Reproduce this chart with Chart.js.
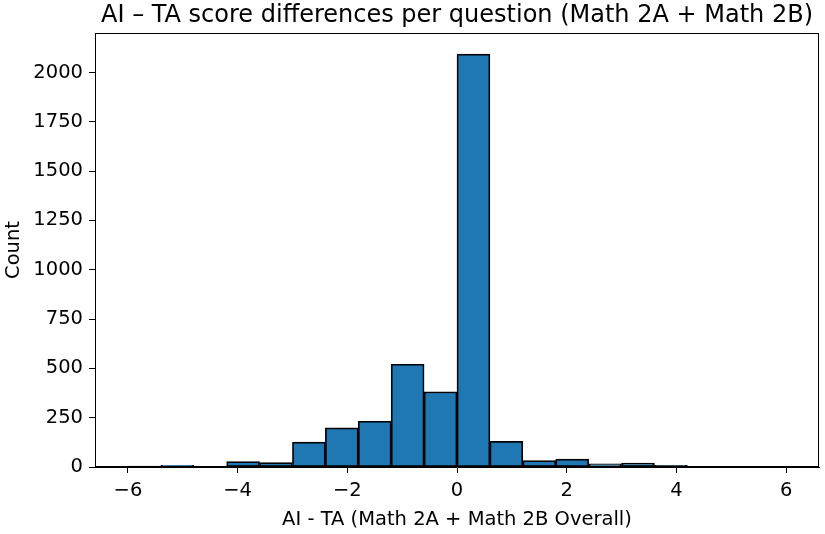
<!DOCTYPE html>
<html>
<head>
<meta charset="utf-8">
<script src="https://cdn.jsdelivr.net/npm/chart.js@4.4.1/dist/chart.umd.min.js"></script>
<style>
  html, body { margin: 0; padding: 0; background: #fff; }
  #wrap { width: 825px; height: 534px; }
</style>
</head>
<body>
<div id="wrap"><canvas id="hist"></canvas></div>
<script>
// histogram bins (AI - TA), 20 bins from -6 to 6
var binEdges = [-6, -5.4, -4.8, -4.2, -3.6, -3.0, -2.4, -1.8, -1.2, -0.6, 0,
                0.6, 1.2, 1.8, 2.4, 3.0, 3.6, 4.2, 4.8, 5.4, 6];
var counts = [5, 9, 2, 27, 22, 126, 198, 232, 521, 381, 2093,
              130, 32, 40, 16, 20, 8, 1, 2, 0];
var xTicks = [-6, -4, -2, 0, 2, 4, 6];
var yTicks = [0, 250, 500, 750, 1000, 1250, 1500, 1750, 2000];
var titleText = 'AI \u2013 TA score differences per question (Math 2A + Math 2B)';

var points = [];
for (var i = 0; i < counts.length; i++) {
  points.push({ x: (binEdges[i] + binEdges[i + 1]) / 2, y: counts[i] });
}

function minus(v) { return String(v).replace('-', '\u2212'); }

// axes frame (all four spines) + title centred over the plot area
var framePlugin = {
  id: 'frame',
  afterDatasetsDraw: function(chart) {
    var a = chart.chartArea, c = chart.ctx;
    c.save();
    c.strokeStyle = '#000';
    c.lineWidth = 1;
    c.strokeRect(a.left + 0.5, a.top + 0.5, a.right - a.left - 1, a.bottom - a.top - 1);
    c.fillStyle = '#000';
    c.font = '24px "DejaVu Sans", sans-serif';
    c.textAlign = 'center';
    c.textBaseline = 'alphabetic';
    c.fillText(titleText, (a.left + a.right) / 2, 22);
    c.restore();
  }
};

Chart.defaults.font.family = '"DejaVu Sans", sans-serif';
Chart.defaults.color = '#000';

new Chart(document.getElementById('hist').getContext('2d'), {
  type: 'bar',
  data: {
    datasets: [{
      data: points,
      backgroundColor: '#1f77b4',
      borderColor: '#000',
      borderWidth: 1.7,
      borderSkipped: false,
      barPercentage: 1.0,
      categoryPercentage: 1.0
    }]
  },
  options: {
    responsive: true,
    maintainAspectRatio: false,
    animation: false,
    layout: { padding: { left: 0, right: 6, top: 33, bottom: 0 } },
    plugins: {
      legend: { display: false },
      tooltip: { enabled: false },
      title: { display: false }
    },
    scales: {
      x: {
        type: 'linear',
        min: -6.6,
        max: 6.6,
        offset: false,
        grid: { display: true, offset: false, drawOnChartArea: false, drawTicks: true, tickLength: 6, color: '#000' },
        border: { display: true, color: '#000' },
        ticks: { font: { size: 19.5 }, padding: 6, maxRotation: 0, callback: function(v) { return minus(v); } },
        afterBuildTicks: function(s) { s.ticks = xTicks.map(function(v) { return { value: v }; }); },
        title: { display: true, text: 'AI - TA (Math 2A + Math 2B Overall)', font: { size: 19.5 }, padding: { top: 2, bottom: 2 } },
        afterFit: function(s) { s.height = 67; }
      },
      y: {
        min: 0,
        max: 2200,
        grid: { display: true, drawOnChartArea: false, drawTicks: true, tickLength: 6, color: '#000' },
        border: { display: true, color: '#000' },
        ticks: { font: { size: 19.5 }, padding: 6, callback: function(v) { return String(v); } },
        afterBuildTicks: function(s) { s.ticks = yTicks.map(function(v) { return { value: v }; }); },
        title: { display: true, text: 'Count', font: { size: 19.5 }, padding: { top: 2, bottom: 4 } },
        afterFit: function(s) { s.width = 95; }
      }
    }
  },
  plugins: [framePlugin]
});
</script>
</body>
</html>
